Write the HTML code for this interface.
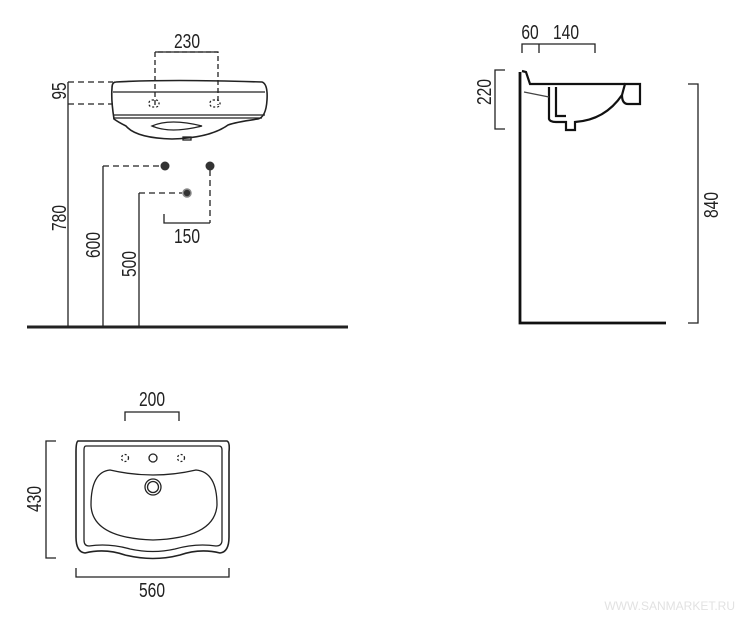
<!DOCTYPE html>
<html><head><meta charset="utf-8"><style>
html,body{margin:0;padding:0;background:#fff;}
svg{display:block;}
text{font-family:"Liberation Sans",sans-serif;font-size:20px;fill:#222;}
</style></head><body>
<svg width="739" height="619" viewBox="0 0 739 619" xmlns="http://www.w3.org/2000/svg">
<g stroke="#222" fill="none" stroke-width="1.3">
<!-- FRONT VIEW -->
<path d="M155 105 V52 H218 V105" stroke-dasharray="5,3"/>
<path d="M155 52 H218"/>
<path d="M68 82 H113 M68 104 H113" stroke-dasharray="6,4"/>
<path d="M68 82 V327 M103 166 V327 M139 193 V327"/>
<path d="M103 166 H160 M139 193 H182 M210 170 V223" stroke-dasharray="6,4"/>
<path d="M164 214 V223 H210"/>
<!-- basin front -->
<path d="M116 82 Q170 79 262 82 Q268 84 267 100 Q266 117 258 119 Q236 122 228 125 Q210 138 172 139 Q136 138 126 126 Q118 122 114 119 Q111 100 112 88 Q112 82 116 82 Z" stroke-width="1.6"/>
<path d="M113 92 H265 M113 115 H265 M113 118 H262"/>
<path d="M152 126 Q170 118 202 126 Q170 134 152 126 Z"/>
<rect x="183" y="137" width="8" height="3"/>
<rect x="149" y="100" width="10" height="7" rx="3" stroke-dasharray="2,2"/>
<rect x="210" y="100" width="10" height="7" rx="3" stroke-dasharray="2,2"/>
</g>
<circle cx="165" cy="166" r="4.5" fill="#333"/>
<circle cx="210" cy="166" r="4.5" fill="#333"/>
<circle cx="187" cy="193" r="4" fill="#333" stroke="#888" stroke-width="1.5"/>
<line x1="27" y1="327" x2="348" y2="327" stroke="#222" stroke-width="3"/>
<text x="187" y="48" text-anchor="middle" transform="translate(187 0) scale(0.78 1) translate(-187 0)">230</text>
<text x="187" y="243" text-anchor="middle" transform="translate(187 0) scale(0.78 1) translate(-187 0)">150</text>
<text transform="translate(66 91) rotate(-90) scale(0.78 1)" text-anchor="middle">95</text>
<text transform="translate(66 218) rotate(-90) scale(0.78 1)" text-anchor="middle">780</text>
<text transform="translate(100 245) rotate(-90) scale(0.78 1)" text-anchor="middle">600</text>
<text transform="translate(136 264) rotate(-90) scale(0.78 1)" text-anchor="middle">500</text>

<!-- SIDE VIEW -->
<g stroke="#222" fill="none" stroke-width="1.3">
<path d="M522 53 V44 H595 V53 M539 44 V53"/>
<path d="M505 70 H495 V129 H505"/>
<path d="M688 84 H698 V323 H688"/>
</g>
<path d="M520 72 V323 H666" stroke="#111" stroke-width="2.8" fill="none"/>
<g stroke="#111" fill="none" stroke-width="2.2">
<path d="M522 71 L526 72 L530 84 H625"/>
<path d="M549 87 V119 Q550 122 556 122 H566 V130 H575 V122 Q605 120 622 95"/>
<path d="M556 87 V116 H566"/>
<path d="M622 95 L625 84 H640 V104 H628 Q622 104 622 95"/>
</g>
<path d="M524 92 L549 97" stroke="#444" stroke-width="1.2"/>
<text x="530" y="39" text-anchor="middle" transform="translate(530 0) scale(0.78 1) translate(-530 0)">60</text>
<text x="566" y="39" text-anchor="middle" transform="translate(566 0) scale(0.78 1) translate(-566 0)">140</text>
<text transform="translate(491 92) rotate(-90) scale(0.78 1)" text-anchor="middle">220</text>
<text transform="translate(718 205) rotate(-90) scale(0.78 1)" text-anchor="middle">840</text>

<!-- TOP VIEW -->
<g stroke="#222" fill="none" stroke-width="1.3">
<path d="M125 421 V412 H179 V421"/>
<path d="M56 441 H46 V558 H56"/>
<path d="M76 568 V577 H229 V568"/>
<path d="M78 441 H227 Q230 442 229 452 V537 Q229 552 220 553 Q200 548 180 555 Q153 562 125 555 Q105 548 85 553 Q76 552 76 537 V452 Q76 442 78 441 Z" stroke-width="1.6"/>
<path d="M86 446 H219 Q222 446 222 450 V540 Q222 546 216 546 Q196 543 175 549 Q153 554 130 549 Q109 543 89 546 Q84 546 84 540 V450 Q84 446 86 446 Z"/>
<path d="M110 470 Q153 480 196 470 Q217 472 217 505 Q215 538 153 540 Q92 538 91 505 Q91 472 110 470 Z"/>
<circle cx="153" cy="458" r="4"/>
<circle cx="125" cy="458" r="3.5" stroke-dasharray="2,2"/>
<circle cx="181" cy="458" r="3.5" stroke-dasharray="2,2"/>
<circle cx="153" cy="487" r="8"/>
<circle cx="153" cy="487" r="5.5"/>
</g>
<text x="152" y="406" text-anchor="middle" transform="translate(152 0) scale(0.78 1) translate(-152 0)">200</text>
<text x="152" y="597" text-anchor="middle" transform="translate(152 0) scale(0.78 1) translate(-152 0)">560</text>
<text transform="translate(41 499) rotate(-90) scale(0.78 1)" text-anchor="middle">430</text>

<text x="735" y="610" text-anchor="end" style="font-size:12px;fill:#e2e2e2;">WWW.SANMARKET.RU</text>
</svg>
</body></html>
